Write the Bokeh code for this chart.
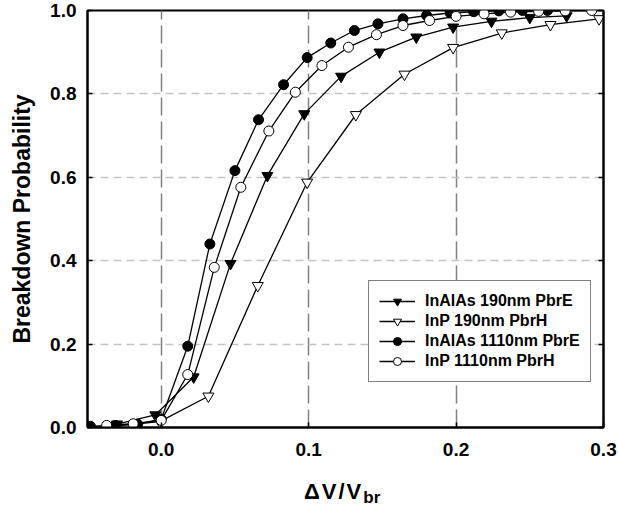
from bokeh.plotting import figure
from bokeh.models import (Range1d, LinearAxis, FixedTicker, Legend, LegendItem,
                          Div, PrintfTickFormatter)
from bokeh.layouts import column
from bokeh.embed import file_html
from bokeh.resources import INLINE

# ---- data ----
x_inalas_190 = [-0.030, -0.004, 0.022, 0.047, 0.072, 0.097, 0.122, 0.148, 0.173, 0.198, 0.224, 0.250, 0.275]
y_inalas_190 = [0.008, 0.030, 0.121, 0.393, 0.604, 0.752, 0.842, 0.900, 0.936, 0.960, 0.974, 0.983, 0.987]

x_inp_190 = [-0.034, -0.001, 0.032, 0.0655, 0.099, 0.132, 0.165, 0.198, 0.231, 0.264, 0.297]
y_inp_190 = [0.003, 0.014, 0.075, 0.340, 0.588, 0.750, 0.847, 0.911, 0.946, 0.966, 0.980]

x_inalas_1110 = [-0.048, -0.031, -0.016, 0.000, 0.018, 0.033, 0.050, 0.066, 0.083, 0.099,
                 0.115, 0.131, 0.147, 0.164, 0.180, 0.196, 0.212, 0.229, 0.245, 0.262]
y_inalas_1110 = [0.003, 0.005, 0.008, 0.020, 0.195, 0.440, 0.616, 0.738, 0.822, 0.887,
                 0.922, 0.952, 0.968, 0.980, 0.988, 0.994, 0.997, 0.999, 1.000, 1.000]

x_inp_1110 = [-0.037, -0.019, 0.000, 0.018, 0.036, 0.054, 0.073, 0.091, 0.109, 0.127,
              0.146, 0.164, 0.182, 0.200, 0.219, 0.237, 0.256, 0.274, 0.292]
y_inp_1110 = [0.005, 0.009, 0.017, 0.127, 0.384, 0.576, 0.711, 0.804, 0.868, 0.912,
              0.942, 0.964, 0.976, 0.986, 0.992, 0.996, 0.998, 0.999, 1.000]

series_labels = ["InAlAs 190nm PbrE", "InP 190nm PbrH", "InAlAs 1110nm PbrE", "InP 1110nm PbrH"]
x_ticks = [0.0, 0.1, 0.2, 0.3]
y_ticks = [0.0, 0.2, 0.4, 0.6, 0.8, 1.0]
x_grid_ticks = [0.0, 0.1, 0.2]
y_grid_ticks = [0.2, 0.4, 0.6, 0.8]
y_title = "Breakdown Probability"
x_title_main = "ΔV/V"
x_title_sub = "br"

FONT = "Liberation Sans"

p = figure(width=618, height=476, output_backend="svg", toolbar_location=None,
           x_range=Range1d(-0.05, 0.3), y_range=Range1d(0.0, 1.0),
           min_border_left=87, min_border_right=15, min_border_top=10, min_border_bottom=49,
           margin=0)
p.background_fill_color = "white"
p.border_fill_color = "white"
p.outline_line_color = "black"
p.outline_line_width = 2

# grids
p.xgrid.ticker = FixedTicker(ticks=x_grid_ticks)
p.xgrid.grid_line_color = "#808080"
p.xgrid.grid_line_dash = "18 6"
p.xgrid.grid_line_width = 1.5
p.ygrid.ticker = FixedTicker(ticks=y_grid_ticks)
p.ygrid.grid_line_color = "#c4c4c4"
p.ygrid.grid_line_dash = "8 5"
p.ygrid.grid_line_width = 1.5

# axes
for ax, ticks in ((p.xaxis[0], x_ticks), (p.yaxis[0], y_ticks)):
    ax.ticker = FixedTicker(ticks=ticks)
    ax.formatter = PrintfTickFormatter(format="%.1f")
    ax.minor_tick_line_color = None
    ax.major_tick_in = 5
    ax.major_tick_out = 0
    ax.major_tick_line_width = 1.5
    ax.axis_line_width = 2
    ax.major_label_text_font = FONT
    ax.major_label_text_font_style = "bold"
    ax.major_label_text_font_size = "19px"
    ax.major_label_text_color = "black"

p.xaxis.major_label_standoff = 15
p.yaxis.major_label_standoff = 11
p.yaxis.axis_label = y_title
p.yaxis.axis_label_text_font = FONT
p.yaxis.axis_label_text_font_style = "bold"
p.yaxis.axis_label_text_font_size = "23px"
p.yaxis.axis_label_text_color = "black"
p.yaxis.axis_label_standoff = 12

ra = LinearAxis(ticker=FixedTicker(ticks=y_ticks), major_tick_in=5, major_tick_out=0,
                minor_tick_line_color=None, axis_line_width=2, major_tick_line_width=1.5,
                major_label_text_font_size="1px", major_label_text_color=None,
                major_label_standoff=0)
p.add_layout(ra, "right")

# series
r1l = p.line(x_inalas_190, y_inalas_190, line_color="black", line_width=1.3)
r1s = p.scatter(x_inalas_190, y_inalas_190, marker="inverted_triangle", size=11,
                fill_color="black", line_color="black")
r2l = p.line(x_inp_190, y_inp_190, line_color="black", line_width=1.3)
r2s = p.scatter(x_inp_190, y_inp_190, marker="inverted_triangle", size=11,
                fill_color="white", line_color="black", line_width=1)
r3l = p.line(x_inalas_1110, y_inalas_1110, line_color="black", line_width=1.3)
r3s = p.scatter(x_inalas_1110, y_inalas_1110, marker="circle", size=10,
                fill_color="black", line_color="black")
r4l = p.line(x_inp_1110, y_inp_1110, line_color="black", line_width=1.3)
r4s = p.scatter(x_inp_1110, y_inp_1110, marker="circle", size=10,
                fill_color="white", line_color="black", line_width=1)

legend = Legend(items=[
    LegendItem(label=series_labels[0], renderers=[r1l, r1s]),
    LegendItem(label=series_labels[1], renderers=[r2l, r2s]),
    LegendItem(label=series_labels[2], renderers=[r3l, r3s]),
    LegendItem(label=series_labels[3], renderers=[r4l, r4s]),
], location=(281, 45))
legend.border_line_color = "black"
legend.border_line_width = 1
legend.background_fill_color = "white"
legend.background_fill_alpha = 1
legend.padding = 10
legend.spacing = 0
legend.margin = 0
legend.glyph_width = 36
legend.glyph_height = 20
legend.label_height = 20
legend.label_standoff = 10
legend.label_text_font = FONT
legend.label_text_font_style = "bold"
legend.label_text_font_size = "16px"
legend.label_text_color = "black"
p.add_layout(legend)

# x-axis title with subscript (HTML text below the plot)
title_html = (
    '<div style="font-family:\'Liberation Sans\',Arial,sans-serif;font-weight:bold;'
    'color:black;line-height:1;white-space:nowrap;padding-left:304px;padding-top:5px;">'
    '<span style="font-size:22px;letter-spacing:2px;">%s</span>'
    '<span style="font-size:17px;position:relative;top:4px;">%s</span></div>'
    % (x_title_main, x_title_sub)
)
xtitle = Div(text=title_html, width=618, height=32, margin=0)

layout = column(p, xtitle, spacing=0, margin=0)

open("out.html", "w").write(file_html(layout, INLINE))
